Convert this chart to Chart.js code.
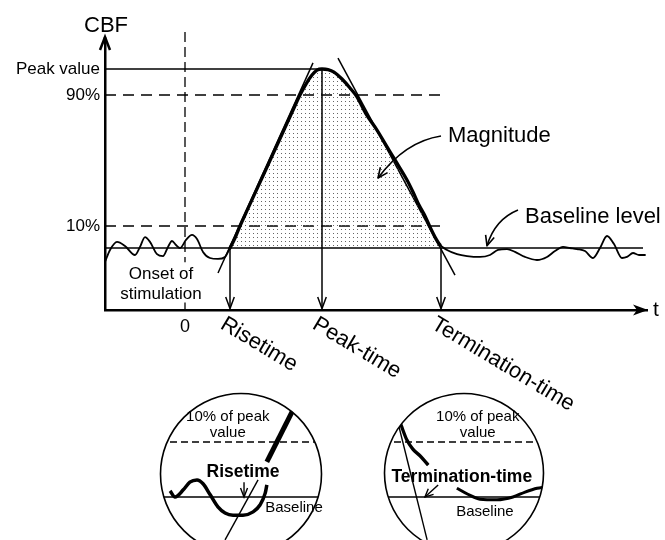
<!DOCTYPE html>
<html><head><meta charset="utf-8">
<script src="https://cdn.jsdelivr.net/npm/chart.js@4.4.1/dist/chart.umd.min.js"></script>
<style>
html,body{margin:0;padding:0;background:#fff;}
#wrap{position:relative;width:665px;height:540px;overflow:hidden;background:#fff;}
canvas{display:block;}
#main{position:absolute;left:0;top:0;}
.inset{position:absolute;}
</style></head><body>
<div id="wrap">
<canvas id="main" width="665" height="540"></canvas>
<div class="inset" style="left:148px;top:381px;"><canvas id="cL" width="186" height="186"></canvas></div>
<div class="inset" style="left:372px;top:381px;"><canvas id="cR" width="184" height="184"></canvas></div>
</div>
<script>
// ---------- main chart data (t in arbitrary time units, 0 = onset; CBF with baseline = 0, peak = 100) ----------
const tValues = [-8.0,-7.5,-6.8,-6.0,-5.0,-4.5,-4.0,-3.5,-2.8,-2.2,-1.7,-1.3,-0.9,-0.5,0.1,0.7,1.2,1.8,2.5,3.3,4.0,
  4.5,5.0,5.5,6.3,7.3,8.2,9.0,9.8,10.7,11.5,12.1,12.7,13.2,13.7,14.3,14.9,15.7,16.5,17.2,18.1,19.2,20.1,21.0,22.2,22.8,23.4,24.0,24.5,25.0,25.5,
  26.2,27.2,28.2,29.5,30.5,31.3,32.2,33.0,34.0,35.2,36.2,37.0,37.8,38.5,39.2,40.0,40.8,41.5,42.2,42.9,43.7,44.2,44.8,45.4,46.0];
const cbfValues = [-7.8,-1.1,3.4,1.1,-3.9,0.6,6.1,3.4,-3.4,-4.5,0.6,3.9,1.7,0,4.5,7.3,5.0,-2.2,-5.6,-6.1,-5.0,
  0,5.6,12.3,22.1,34.3,45.2,55.0,64.8,75.8,85.5,91.6,96.6,99.4,100,99.7,98.3,94.4,89.4,84.4,74.9,65.9,57.5,49.2,38.0,31.3,24.0,17.9,11.7,6.1,1.7,
  -1.1,-3.4,-4.5,-5.0,-3.9,-1.1,-0.6,-2.2,-5.0,-6.7,-5.0,-1.7,0.6,0,-0.6,-1.7,-5.6,0,6.7,2.2,-5.6,-5.0,-2.8,-3.9,-3.9];
const levelValues = [12.3, 85.5, 100];
const levelLabels = ['10%', '90%', 'Peak value'];
const baselineLevel = 0;
const peakValue = 100;
const onsetTime = 0;
const markerTimes = [4.5, 13.7, 25.6];
const markerNames = ['Risetime', 'Peak-time', 'Termination-time'];
const markerFrom = [baselineLevel, peakValue, baselineLevel];
const riseTangentT = [3.3, 12.8], riseTangentV = [-14.0, 103.4];
const fallTangentT = [15.3, 27.0], fallTangentV = [106.1, -15.1];

// ---------- inset data (magnified: baseline = 0, 10% of peak = 10) ----------
const riseWaveX = [-12.9,-12.0,-10.5,-9.3,-8.0,-6.9,-5.6,-4.2,-2.9,-1.45,0.36,2.2,3.45,4.4,4.7];
const riseWaveY = [1.1,0,1.3,2.7,3.1,2.4,0.4,-1.8,-2.9,-3.3,-3.3,-2.7,-1.45,0.7,2.2];
const riseSlopeX = [4.7, 10.2], riseSlopeY = [6.4, 17.3];
const riseTanX = [-2.9, 3.1], riseTanY = [-7.8, 3.1];
const riseArrowX = 0.55;
const termDecayX = [-12.2,-11.3,-10.4,-9.3,-8.0,-6.5];
const termDecayY = [15.3,12.7,10.4,8.7,7.5,5.8];
const termTanX = [-12.5, -6.7], termTanY = [15.5, -7.8];
const termTailX = [-1.3,0.7,2.9,6.0,8.9,11.1,13.3,14.7];
const termTailY = [1.6,0.5,-0.4,-0.5,0,0.9,1.6,1.8];
const insetLevel = 10;

const FONT = '"Liberation Sans", Arial, Helvetica, sans-serif';
const pts = (xs, ys) => xs.map((x, i) => ({x, y: ys[i]}));
const curvePts = pts(tValues, cbfValues);
const magPts = curvePts.filter(p => p.x >= markerTimes[0] && p.x <= 25.5);
const T_MIN = -8, T_MAX = 46.2, V_MIN = -34.64, V_MAX = 116.2;

const mainCanvas = document.getElementById('main');
const mctx = mainCanvas.getContext('2d');
const pc = document.createElement('canvas'); pc.width = 4; pc.height = 4;
const pg = pc.getContext('2d'); pg.fillStyle = '#666'; pg.fillRect(1, 1, 1, 1);
const dots = mctx.createPattern(pc, 'repeat');

function refLine(data, width, dash) {
  return {data, borderColor:'#000', borderWidth:width, borderDash:dash||[], pointRadius:0, fill:false, order:2, tension:0};
}
function vHead(ctx, x, y) {
  ctx.beginPath(); ctx.moveTo(x - 4.3, y - 11.5); ctx.lineTo(x, y); ctx.lineTo(x + 4.3, y - 11.5); ctx.stroke();
}
function curvedArrow(ctx, x0, y0, cx, cy, x1, y1) {
  ctx.beginPath(); ctx.moveTo(x0, y0); ctx.quadraticCurveTo(cx, cy, x1, y1); ctx.stroke();
  const a = Math.atan2(y1 - cy, x1 - cx), L = 11, s = 0.42;
  ctx.beginPath();
  ctx.moveTo(x1 - L * Math.cos(a - s), y1 - L * Math.sin(a - s));
  ctx.lineTo(x1, y1);
  ctx.lineTo(x1 - L * Math.cos(a + s), y1 - L * Math.sin(a + s));
  ctx.stroke();
}

const mainPlugin = {
  id: 'mainAnno',
  afterDraw(chart) {
    const ctx = chart.ctx, xs = chart.scales.x, ys = chart.scales.y;
    const X = v => xs.getPixelForValue(v), Y = v => ys.getPixelForValue(v);
    ctx.save();
    ctx.strokeStyle = '#000'; ctx.fillStyle = '#000';
    // onset of stimulation (dashed)
    ctx.lineWidth = 1.3; ctx.setLineDash([10, 5]);
    ctx.beginPath(); ctx.moveTo(X(onsetTime), Y(120.7)); ctx.lineTo(X(onsetTime), Y(-8)); ctx.stroke();
    ctx.setLineDash([]);
    ctx.beginPath(); ctx.moveTo(X(onsetTime), Y(-30.5)); ctx.lineTo(X(onsetTime), ys.bottom); ctx.stroke();
    // marker arrows
    ctx.lineWidth = 1.5;
    markerTimes.forEach((t, i) => {
      const x = X(t), y1 = ys.bottom - 1.5;
      ctx.beginPath(); ctx.moveTo(x, Y(markerFrom[i])); ctx.lineTo(x, y1); ctx.stroke();
      vHead(ctx, x, y1);
    });
    // axis arrows
    ctx.lineWidth = 2.5; ctx.lineJoin = 'miter';
    const ax = xs.left;
    ctx.beginPath(); ctx.moveTo(ax, ys.top); ctx.lineTo(ax, ys.top - 3); ctx.stroke();
    ctx.beginPath(); ctx.moveTo(ax - 5, ys.top + 10); ctx.lineTo(ax, ys.top - 3); ctx.lineTo(ax + 5, ys.top + 10); ctx.stroke();
    const ay = ys.bottom, ex = xs.right + 1;
    ctx.beginPath(); ctx.moveTo(ex - 15, ay - 5.5); ctx.lineTo(ex, ay); ctx.lineTo(ex - 15, ay + 5.5); ctx.lineTo(ex - 11, ay); ctx.closePath(); ctx.fill();
    // texts
    ctx.textBaseline = 'alphabetic';
    ctx.font = '22px ' + FONT; ctx.textAlign = 'center';
    ctx.fillText('CBF', ax + 1, 32);
    ctx.font = '21px ' + FONT; ctx.textAlign = 'left'; ctx.textBaseline = 'middle';
    ctx.fillText('t', ex + 5, ay);
    ctx.font = '17px ' + FONT; ctx.textAlign = 'center';
    ctx.fillText('Onset of', X(-2.4), Y(-14.5));
    ctx.fillText('stimulation', X(-2.4), Y(-25.7));
    ctx.font = '22px ' + FONT; ctx.textAlign = 'left'; ctx.textBaseline = 'alphabetic';
    ctx.fillText('Magnitude', X(26.3), Y(59.2));
    ctx.fillText('Baseline level', X(34.0), Y(14.0));
    // rotated marker labels
    ctx.font = '22px ' + FONT; ctx.textBaseline = 'top';
    markerTimes.forEach((t, i) => {
      ctx.save();
      ctx.translate(X(t) - 2, ys.bottom + 3);
      ctx.rotate(31 * Math.PI / 180);
      ctx.fillText(markerNames[i], 0, 0);
      ctx.restore();
    });
    // curved annotation arrows
    ctx.lineWidth = 1.6; ctx.lineJoin = 'round';
    curvedArrow(ctx, X(25.6), Y(62.6), X(22.0), Y(59.5), X(19.3), Y(39.1));
    curvedArrow(ctx, X(33.3), Y(21.2), X(31.0), Y(16.0), X(30.2), Y(1.2));
    ctx.restore();
  }
};

new Chart(mainCanvas, {
  type: 'line',
  data: { datasets: [
    {label:'CBF', data: curvePts, borderColor:'#000', borderWidth:1.8,
     segment:{ borderWidth: c => (c.p0.parsed.x >= 4.4 && c.p1.parsed.x <= 25.6) ? 3.3 : 1.8 },
     borderCapStyle:'round', borderJoinStyle:'round',
     pointRadius:0, cubicInterpolationMode:'monotone', fill:false, order:0},
    {label:'Magnitude', data: magPts, borderWidth:0, borderColor:'rgba(0,0,0,0)', backgroundColor: dots,
     fill:'origin', pointRadius:0, cubicInterpolationMode:'monotone', order:1},
    refLine([{x:T_MIN, y:peakValue}, {x:markerTimes[1], y:peakValue}], 1.3),
    refLine([{x:T_MIN, y:levelValues[1]}, {x:25.5, y:levelValues[1]}], 1.4, [11, 7]),
    refLine([{x:T_MIN, y:levelValues[0]}, {x:25.5, y:levelValues[0]}], 1.4, [11, 7]),
    refLine([{x:T_MIN, y:baselineLevel}, {x:45.8, y:baselineLevel}], 1.3),
    refLine(pts(riseTangentT, riseTangentV), 1.5),
    refLine(pts(fallTangentT, fallTangentV), 1.5)
  ]},
  options: {
    responsive:false, animation:false, events:[],
    layout:{ padding:{ top:40, right:18, left:0, bottom:0 } },
    plugins:{ legend:{display:false}, tooltip:{enabled:false} },
    scales:{
      x:{ type:'linear', min:T_MIN, max:T_MAX, position:'bottom',
          afterBuildTicks: s => { s.ticks = [{value: onsetTime}]; },
          afterFit: s => { s.height = 230; },
          ticks:{ callback: () => '0', color:'#000', font:{family:FONT, size:18}, padding:6, maxRotation:0, autoSkip:false },
          grid:{ display:false, drawTicks:false },
          border:{ display:true, color:'#000', width:2.5 } },
      y:{ type:'linear', min:V_MIN, max:V_MAX, position:'left',
          afterBuildTicks: s => { s.ticks = levelValues.map(v => ({value: v})); },
          afterFit: s => { s.width = 105; },
          ticks:{ callback: (v, i) => levelLabels[i], color:'#000', font:{family:FONT, size:17}, padding:5, autoSkip:false },
          grid:{ display:false, drawTicks:false },
          border:{ display:true, color:'#000', width:2.5 } }
    }
  },
  plugins:[mainPlugin]
});

// ---------- insets (circle of radius r inside a canvas with margin M) ----------
const PXU = 5.5, M = 12;
function insetChart(canvasId, r, baseOffset, datasets, draw) {
  const xr = (r + M) / PXU, ymax = (baseOffset + M) / PXU, ymin = -(2 * r - baseOffset + M) / PXU;
  const lineDefaults = d => Object.assign({borderColor:'#000', pointRadius:0, fill:false, borderCapStyle:'butt'}, d);
  const circlePath = (chart) => {
    const ctx = chart.ctx; ctx.beginPath(); ctx.arc(chart.width / 2, chart.height / 2, r - 0.5, 0, Math.PI * 2);
  };
  return new Chart(document.getElementById(canvasId), {
    type:'line',
    data:{ datasets: datasets.concat([
      {data:[{x:-xr, y:insetLevel}, {x:xr, y:insetLevel}], borderWidth:1.3, borderDash:[7, 4]},
      {data:[{x:-xr, y:0}, {x:xr, y:0}], borderWidth:1.3}
    ]).map(lineDefaults) },
    options:{
      responsive:false, animation:false, events:[],
      layout:{ padding:0 },
      plugins:{ legend:{display:false}, tooltip:{enabled:false} },
      scales:{ x:{type:'linear', display:false, min:-xr, max:xr}, y:{type:'linear', display:false, min:ymin, max:ymax} }
    },
    plugins:[{ id:'insetAnno',
      beforeDatasetsDraw(chart) { chart.ctx.save(); circlePath(chart); chart.ctx.clip(); },
      afterDatasetsDraw(chart) { chart.ctx.restore(); },
      afterDraw(chart) {
        const ctx = chart.ctx, xs = chart.scales.x, ys = chart.scales.y;
        const X = v => xs.getPixelForValue(v), Y = v => ys.getPixelForValue(v);
        ctx.save(); ctx.fillStyle = '#000'; ctx.strokeStyle = '#000';
        draw(ctx, X, Y);
        ctx.lineWidth = 1.6; ctx.setLineDash([]);
        circlePath(chart); ctx.stroke();
        ctx.restore();
      }}]
  });
}

insetChart('cL', 81, 104, [
  {data: pts(riseWaveX, riseWaveY), borderWidth:3.5, cubicInterpolationMode:'monotone', borderJoinStyle:'round'},
  {data: pts(riseSlopeX, riseSlopeY), borderWidth:5},
  {data: pts(riseTanX, riseTanY), borderWidth:1.4}
], (ctx, X, Y) => {
  ctx.textAlign = 'center'; ctx.textBaseline = 'middle';
  ctx.font = '15px ' + FONT;
  ctx.fillText('10% of peak', X(-2.4), Y(14.5));
  ctx.fillText('value', X(-2.4), Y(11.6));
  ctx.font = 'bold 17.5px ' + FONT;
  ctx.fillText('Risetime', X(0.36), Y(4.5));
  ctx.font = '15px ' + FONT; ctx.textAlign = 'left';
  ctx.fillText('Baseline', X(4.4), Y(-2.0));
  ctx.lineWidth = 1.4;
  const x = X(riseArrowX);
  ctx.beginPath(); ctx.moveTo(x, Y(2.7)); ctx.lineTo(x, Y(0)); ctx.stroke();
  ctx.beginPath(); ctx.moveTo(x - 3.5, Y(0) - 9); ctx.lineTo(x, Y(0)); ctx.lineTo(x + 3.5, Y(0) - 9); ctx.stroke();
});

insetChart('cR', 80, 104, [
  {data: pts(termDecayX, termDecayY), borderWidth:3.3, cubicInterpolationMode:'monotone'},
  {data: pts(termTanX, termTanY), borderWidth:1.4},
  {data: pts(termTailX, termTailY), borderWidth:3, cubicInterpolationMode:'monotone'}
], (ctx, X, Y) => {
  ctx.textAlign = 'center'; ctx.textBaseline = 'middle';
  ctx.font = '15px ' + FONT;
  ctx.fillText('10% of peak', X(2.5), Y(14.5));
  ctx.fillText('value', X(2.5), Y(11.6));
  ctx.font = 'bold 17.5px ' + FONT;
  ctx.fillText('Termination-time', X(-0.4), Y(3.6));
  ctx.font = '15px ' + FONT;
  ctx.fillText('Baseline', X(3.8), Y(-2.7));
  ctx.lineWidth = 1.4;
  const x0 = X(-4.7), y0 = Y(2.2), x1 = X(-7.1), y1 = Y(0);
  ctx.beginPath(); ctx.moveTo(x0, y0); ctx.lineTo(x1, y1); ctx.stroke();
  const a = Math.atan2(y1 - y0, x1 - x0), L = 9, s = 0.45;
  ctx.beginPath();
  ctx.moveTo(x1 - L * Math.cos(a - s), y1 - L * Math.sin(a - s));
  ctx.lineTo(x1, y1);
  ctx.lineTo(x1 - L * Math.cos(a + s), y1 - L * Math.sin(a + s));
  ctx.stroke();
});
</script>
</body></html>
